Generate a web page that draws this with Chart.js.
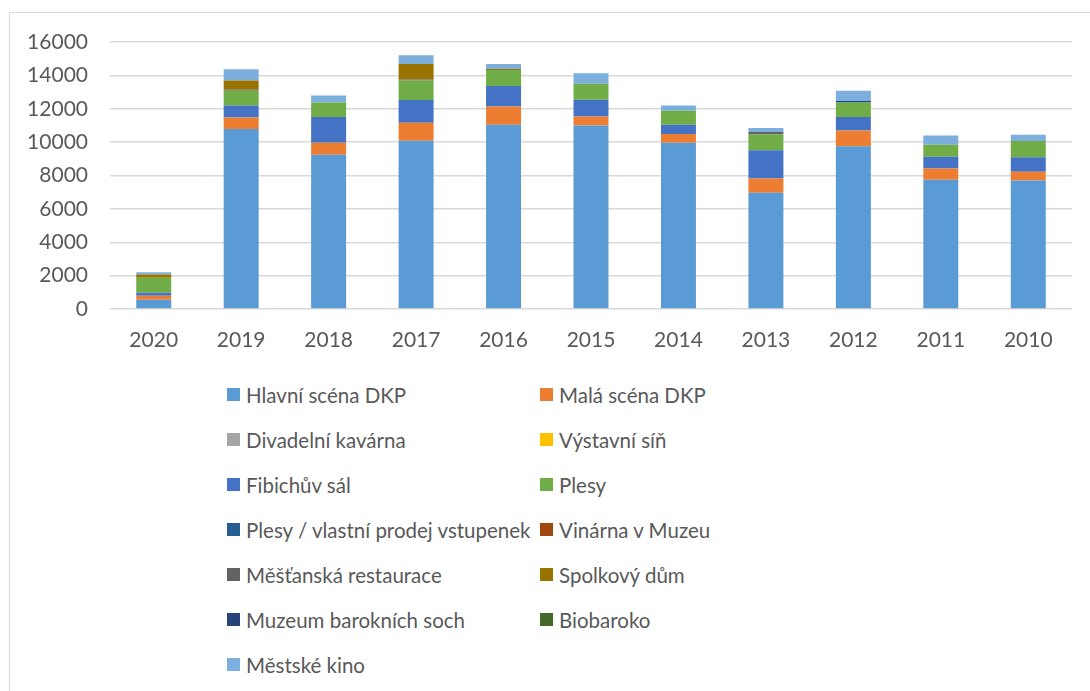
<!DOCTYPE html>
<html lang="cs">
<head>
  <meta charset="UTF-8"/>
  <title>Návštěvnost</title>
  <script src="https://cdn.jsdelivr.net/npm/chart.js"></script>
  <style>
    body { margin:0; background:#fff; font-family: Lato, 'Open Sans', sans-serif; }
    .frame { position:absolute; left:9px; top:12px; width:1100px; height:700px; border:1.5px solid #d9d9d9; box-sizing:border-box; }
    .chart-box { position:absolute; left:0; top:0; width:1090px; height:370px; }
    #legend { position:absolute; left:227px; top:372px; display:grid; grid-template-columns:313px 260px; }
    #legend .item { height:45px; display:flex; align-items:center; color:#595959; font-size:20.5px; white-space:nowrap; }
    #legend .box { width:13px; height:13px; margin-right:6px; flex:none; }
  </style>
</head>
<body>
  <div class="frame"></div>
  <div class="chart-box"><canvas id="chart"></canvas></div>
  <div id="legend"></div>
  <script>
    // years on the x axis
    const years = ["2020","2019","2018","2017","2016","2015","2014","2013","2012","2011","2010"];

    // series (bottom to top in stack)
    const hlavniScena   = [560, 10780, 9240, 10080, 11040, 11000, 9960, 6960, 9760, 7740, 7700];
    const malaScena     = [240, 700, 720, 1080, 1100, 540, 520, 860, 940, 680, 520];
    const kavarna       = [0, 0, 0, 0, 0, 0, 0, 0, 0, 0, 0];
    const vystavniSin   = [0, 0, 0, 0, 0, 0, 0, 0, 0, 0, 0];
    const fibichuvSal   = [180, 720, 1540, 1360, 1220, 1000, 560, 1700, 800, 700, 880];
    const plesy         = [900, 880, 880, 1180, 960, 960, 840, 940, 880, 720, 960];
    const plesyVlastni  = [0, 0, 0, 0, 0, 0, 0, 0, 0, 0, 0];
    const vinarna       = [0, 0, 0, 0, 0, 0, 0, 0, 0, 0, 0];
    const mestanska     = [0, 60, 0, 60, 0, 0, 0, 140, 0, 0, 0];
    const spolkovyDum   = [180, 560, 0, 920, 60, 0, 0, 0, 0, 0, 0];
    const muzeumSoch    = [0, 0, 0, 0, 0, 0, 0, 0, 80, 0, 0];
    const biobaroko     = [0, 0, 0, 0, 0, 0, 0, 0, 0, 0, 0];
    const mestskeKino   = [140, 660, 420, 520, 300, 620, 320, 240, 620, 560, 380];

    const yTicks = [0, 2000, 4000, 6000, 8000, 10000, 12000, 14000, 16000];

    const series = [
      ["Hlavní scéna DKP", hlavniScena, "#5B9BD5"],
      ["Malá scéna DKP", malaScena, "#ED7D31"],
      ["Divadelní kavárna", kavarna, "#A5A5A5"],
      ["Výstavní síň", vystavniSin, "#FFC000"],
      ["Fibichův sál", fibichuvSal, "#4472C4"],
      ["Plesy", plesy, "#70AD47"],
      ["Plesy / vlastní prodej vstupenek", plesyVlastni, "#255E91"],
      ["Vinárna v Muzeu", vinarna, "#9E480E"],
      ["Měšťanská restaurace", mestanska, "#636363"],
      ["Spolkový dům", spolkovyDum, "#997300"],
      ["Muzeum barokních soch", muzeumSoch, "#264478"],
      ["Biobaroko", biobaroko, "#43682B"],
      ["Městské kino", mestskeKino, "#7CAFDD"]
    ];

    const textColor = "#595959";
    const font = { family: "Lato, 'Open Sans', sans-serif", size: 21 };

    const chart = new Chart(document.getElementById('chart'), {
      type: 'bar',
      data: {
        labels: years,
        datasets: series.map(s => ({
          label: s[0],
          data: s[1],
          backgroundColor: s[2],
          borderWidth: 0,
          barPercentage: 0.4,
          categoryPercentage: 1
        }))
      },
      options: {
        responsive: true,
        maintainAspectRatio: false,
        animation: false,
        layout: { padding: { top: 42, right: 18, left: 0, bottom: 0 } },
        plugins: { legend: { display: false }, tooltip: { enabled: false } },
        scales: {
          x: {
            stacked: true,
            grid: { display: false },
            border: { display: false },
            ticks: { color: textColor, font: font, padding: 11 },
            afterFit: s => { s.height = 61; }
          },
          y: {
            stacked: true,
            min: 0, max: 16000,
            afterBuildTicks: s => { s.ticks = yTicks.map(v => ({ value: v })); },
            grid: { color: "#d9d9d9", lineWidth: 1.5, drawTicks: false },
            border: { display: false },
            ticks: { color: textColor, font: font, padding: 22, callback: v => String(v) },
            afterFit: s => { s.width = 110; }
          }
        }
      }
    });

    // legend in two columns like the original
    const legend = document.getElementById('legend');
    chart.data.datasets.forEach(ds => {
      const item = document.createElement('div');
      item.className = 'item';
      const box = document.createElement('span');
      box.className = 'box';
      box.style.background = ds.backgroundColor;
      item.appendChild(box);
      item.appendChild(document.createTextNode(ds.label));
      legend.appendChild(item);
    });
  </script>
</body>
</html>
